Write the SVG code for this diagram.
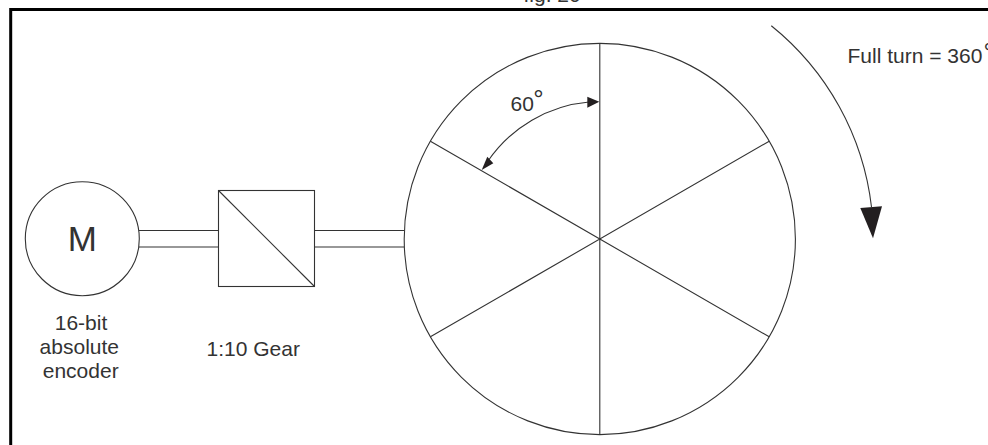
<svg xmlns="http://www.w3.org/2000/svg" width="988" height="445" viewBox="0 0 988 445">
<style>
.l{fill:none;stroke:#333;stroke-width:1.1}
.t{font-family:"Liberation Sans",Arial,sans-serif;font-size:21px;fill:#333}
.d{font-size:26px;font-weight:normal}
.h{fill:#231f20}
</style>
<rect width="988" height="445" fill="#fff"/>
<text class="t" x="523.5" y="2">fig. 20</text>
<path d="M10.7 445V9.5H988" fill="none" stroke="#000" stroke-width="3"/>
<g id="connectors">
<path class="l" d="M139 230.5H218.5M139 247H218.5M314.5 230.5H404M314.5 247H404"/>
<path class="l" d="M771.3 25.7A273.5 273.5 0 0 1 871.5 207"/>
<path class="l" d="M589 102A137 137 0 0 0 488 161"/>
<polygon class="h" points="860.3,208 882,206.3 873,238.3"/>
<polygon class="h" points="599.3,101.7 587.3,96.7 587.3,107.7"/>
<polygon class="h" points="481.7,170 487.3,156.7 493.3,163.3"/>
</g>
<g id="motor">
<circle class="l" cx="82.3" cy="238.7" r="57"/>
<text class="t" x="82.3" y="250.5" text-anchor="middle" style="font-size:35px">M</text>
<text class="t" x="81" y="330" text-anchor="middle">16-bit</text>
<text class="t" x="79.3" y="354" text-anchor="middle">absolute</text>
<text class="t" x="80.7" y="378" text-anchor="middle">encoder</text>
</g>
<g id="gear">
<rect class="l" x="218.5" y="190.5" width="96" height="96"/>
<path class="l" d="M218.5 190.5L314.5 286.5"/>
<text class="t" x="206.5" y="356">1:10 Gear</text>
</g>
<g id="disc">
<circle class="l" cx="599.8" cy="239" r="195.6"/>
<path class="l" d="M599.8 43.4V434.6M430.4 141.2L769.2 336.8M430.4 336.8L769.2 141.2"/>
<text class="t" x="510.5" y="110.7">60</text>
<text class="t d" x="533.3" y="108">°</text>
</g>
<g id="full-turn">
<text class="t" x="847.5" y="63">Full turn = 360</text>
<text class="t d" x="983.5" y="60.7">°</text>
</g>
</svg>
